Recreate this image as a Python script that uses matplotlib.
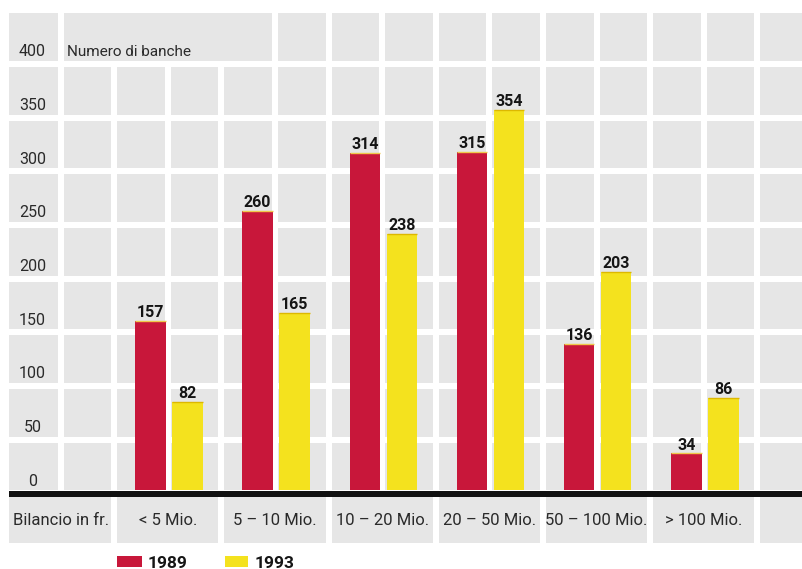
import matplotlib
matplotlib.use("Agg")
import matplotlib.pyplot as plt
from matplotlib.patches import Rectangle

# ---- data ----
categories = ["< 5 Mio.", "5 – 10 Mio.", "10 – 20 Mio.", "20 – 50 Mio.", "50 – 100 Mio.", "> 100 Mio."]
values_1989 = [157, 260, 314, 315, 136, 34]
values_1993 = [82, 165, 238, 354, 203, 86]
series_names = ["1989", "1993"]
yticks = [0, 50, 100, 150, 200, 250, 300, 350, 400]
y_title = "Numero di banche"
x_title = "Bilancio in fr."

# ---- style ----
RED = "#C8173A"
YEL = "#F4E21E"
TILE = "#E6E6E6"
TXT = "#2a2a2a"
FONT = ["Roboto", "DejaVu Sans"]
plt.rcParams["font.family"] = FONT

W, H = 802, 569
fig = plt.figure(figsize=(W / 100, H / 100), dpi=100)
ax = fig.add_axes([0, 0, 1, 1])
ax.set_axis_off()

# x: one unit = one tile column (53.6 px); y: data units (1.074 px per unit)
PXU = 53.6
X0 = 60.6
PYU = 1.074
Y0 = 490.0
ax.set_xlim(-X0 / PXU, (W - X0) / PXU)
ax.set_ylim(-(H - Y0) / PYU, Y0 / PYU)

def vx(px):
    return (px - X0) / PXU

def vy(py):
    return (Y0 - py) / PYU

gx = 3.0 / PXU          # half gap in x units
gy = 3.0 / PYU          # half gap in y units
xl = vx(9)              # left edge of tiles
xr = vx(W + 5)          # beyond right edge
top = vy(13)

# horizontal gap centres
hgaps = [50 * k - 3.3 for k in range(1, 9)]

rows = []
lo = 0.0
for g in hgaps:
    rows.append((lo, g - gy))
    lo = g + gy
rows.append((lo, top))

ncol = 14
for ri, (b, t) in enumerate(rows):
    if ri == len(rows) - 1:
        spans = [(-1, -1), (0, 3)] + [(c, c) for c in range(4, ncol)]
    else:
        spans = [(c, c) for c in range(-1, ncol)]
    for c0, c1 in spans:
        left = xl if c0 == -1 else c0 + gx
        right = xr if c1 == ncol - 1 else c1 + 1 - gx
        ax.add_patch(Rectangle((left, b), right - left, t - b, color=TILE, lw=0, zorder=0))

# label row below axis: merged pairs
lb, lt = vy(543), vy(497)
spans = [(-1, 0)] + [(c, c + 1) for c in range(1, 13, 2)] + [(13, 13)]
for c0, c1 in spans:
    left = xl if c0 == -1 else c0 + gx
    right = xr if c1 == ncol - 1 else c1 + 1 - gx
    ax.add_patch(Rectangle((left, lb), right - left, lt - lb, color=TILE, lw=0, zorder=0))

# axis line
ax.add_patch(Rectangle((xl, vy(496.5)), xr - xl, vy(490.5) - vy(496.5), color="#111111", lw=0, zorder=5))

# ---- bars ----
centers = [2 + 2 * i for i in range(len(categories))]
bw = 30.5 / PXU
off = 18.5 / PXU
x89 = [c - off + 0.02 for c in centers]
x93 = [c + off + 0.02 for c in centers]
ax.bar(x89, values_1989, width=bw, color=RED, zorder=3, lw=0)
ax.bar(x93, values_1993, width=bw, color=YEL, zorder=3, lw=0)
for x, v in zip(x89, values_1989):
    ax.plot([x - bw / 2, x + bw / 2], [v, v], color="#EFC84A", lw=1.0, zorder=4, solid_capstyle="butt")
    ax.text(x, v + 3.7, str(v), ha="center", va="baseline", fontsize=11.5, fontweight="bold", color="#151515", zorder=6)
for x, v in zip(x93, values_1993):
    ax.plot([x - bw / 2, x + bw / 2], [v, v], color="#DDB800", lw=1.0, zorder=4, solid_capstyle="butt")
    ax.text(x, v + 3.7, str(v), ha="center", va="baseline", fontsize=11.5, fontweight="bold", color="#151515", zorder=6)

# ---- y tick labels ----
for t in yticks:
    ax.text(vx(32.5), t + 4, str(t), ha="center", va="baseline", fontsize=11.5, color=TXT, zorder=6)
ax.text(vx(67), 404, y_title, ha="left", va="baseline", fontsize=11, color=TXT, zorder=6)

# ---- category labels ----
ax.text(0, vy(525), x_title, ha="center", va="baseline", fontsize=12, color=TXT, zorder=6)
for c, lab in zip(centers, categories):
    ax.text(c, vy(525), lab, ha="center", va="baseline", fontsize=12, color=TXT, zorder=6)

# ---- legend ----
ax.add_patch(Rectangle((vx(117), vy(567)), vx(142) - vx(117), vy(556) - vy(567), color=RED, lw=0))
ax.text(vx(148), vy(567.5), series_names[0], ha="left", va="baseline", fontsize=12.5, fontweight="bold", color="#151515")
ax.add_patch(Rectangle((vx(225), vy(567)), vx(248) - vx(225), vy(556) - vy(567), color=YEL, lw=0))
ax.text(vx(255), vy(567.5), series_names[1], ha="left", va="baseline", fontsize=12.5, fontweight="bold", color="#151515")

fig.savefig("out.png", dpi=100, facecolor="white")
